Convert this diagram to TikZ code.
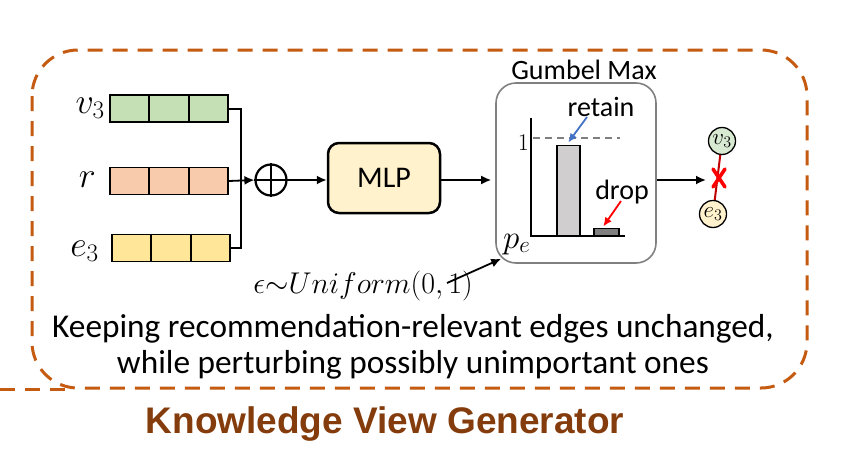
\RequirePackage{fix-cm}
\documentclass[tikz,border=0pt]{standalone}
\usepackage{fontspec}
\setmainfont{Carlito}
\newfontfamily\titlefont{Liberation Sans}
\usetikzlibrary{arrows.meta,calc}
\definecolor{dashor}{HTML}{C55A11}
\definecolor{titlebrown}{HTML}{843C0C}
\definecolor{vgreen}{HTML}{C5E0B4}
\definecolor{rorange}{HTML}{F8CBAD}
\definecolor{eyellow}{HTML}{FFE699}
\definecolor{mlpfill}{HTML}{FFF2CC}
\definecolor{gboxgray}{HTML}{808080}
\definecolor{barlight}{HTML}{D0CECE}
\definecolor{bardark}{HTML}{7F7F7F}
\definecolor{retainblue}{HTML}{4472C4}
\definecolor{cgreen}{HTML}{D9EAD3}
\definecolor{cyellow}{HTML}{FFF2CC}
\definecolor{edgered}{HTML}{C00000}
\tikzset{
  outerbox/.style={draw=dashor, line width=3pt, dash pattern=on 15pt off 10pt, rounded corners=46pt},
  vecbox/.style={draw, line width=1.5pt, minimum width=118pt, minimum height=27pt, inner sep=0pt},
  cellline/.style={line width=1.5pt},
  mathlbl/.style={font=\fontsize{30}{36}\selectfont, inner sep=0pt},
  veclbl/.style={font=\fontsize{36}{42}\selectfont, inner sep=0pt, anchor=base east},
  wire/.style={line width=2pt},
  arr/.style={line width=1.8pt, -{Latex[length=10pt,width=9pt]}},
  opl/.style={circle, draw, line width=2.2pt, minimum size=31pt, inner sep=0pt},
  mlpbox/.style={draw, line width=2.5pt, fill=mlpfill, rounded corners=11pt, minimum width=112pt, minimum height=70pt, font=\fontsize{30}{36}\selectfont},
  gbox/.style={draw=gboxgray, line width=1.6pt, rounded corners=20pt, minimum width=160pt, minimum height=180pt, inner sep=0pt},
  sans/.style={font=\fontsize{28}{34}\selectfont, inner sep=0pt},
  desc/.style={font=\fontsize{33.3}{40}\selectfont, inner sep=0pt, anchor=base},
  bar/.style={draw, line width=1.5pt, inner sep=0pt, anchor=south west},
  smallnode/.style={circle, draw, line width=1.3pt, minimum size=27pt, inner sep=0pt, font=\fontsize{23}{26}\selectfont},
  xline/.style={draw=red, line width=3.5pt, line cap=round},
}
\begin{document}
\begin{tikzpicture}[x=1pt,y=-1pt]
\useasboundingbox (0,0) rectangle (843,450);
% outer dashed box
\draw[outerbox] (32,50) rectangle (807,388);
\coordinate (strayA) at (0,389);
\coordinate (strayB) at (72,389);
\draw[draw=dashor, line width=3pt, dash pattern=on 15pt off 10pt] (strayA) -- (strayB);
% vectors
\node[vecbox, fill=vgreen] (v3vec) at (169,108.5) {};
\node[vecbox, fill=rorange] (rvec) at (169,181) {};
\node[vecbox, fill=eyellow] (e3vec) at (171,248) {};
\foreach \n in {v3vec,rvec,e3vec}{
  \draw[cellline] ($(\n.north west)!1/3!(\n.north east)$) -- ($(\n.south west)!1/3!(\n.south east)$);
  \draw[cellline] ($(\n.north west)!2/3!(\n.north east)$) -- ($(\n.south west)!2/3!(\n.south east)$);
}
\node[veclbl] (v3lbl) at (105,113) {$v_3$};
\node[veclbl] (rlbl) at (96,187) {$r$};
\node[veclbl] (e3lbl) at (99,256) {$e_3$};
% oplus
\node[opl] (oplus) at (271,180) {};
\draw[line width=2.2pt] (oplus.north) -- (oplus.south);
\draw[line width=2.2pt] (oplus.west) -- (oplus.east);
\coordinate (bus) at (241,181);
\draw[wire] (v3vec.east) -| (bus) |- (e3vec.east);
\draw[arr] (rvec.east) -- (oplus.west);
% MLP
\node[mlpbox] (mlp) at (384,178) {MLP};
\draw[arr] (oplus.east) -- (mlp.west |- oplus.east);
% Gumbel box
\node[gbox] (gumbel) at (576,173) {};
\node[sans, anchor=base] (gtitle) at (584,79) {Gumbel Max};
\draw[arr, shorten >=4pt] (mlp.east |- 0,180) -- (gumbel.west |- 0,180);
% axes
\coordinate (ytop) at (531,118);
\coordinate (origin) at (531,236);
\coordinate (xend) at (625,236);
\draw[line width=2pt] (ytop) -- (origin) -- (xend);
\coordinate (refL) at (533,138);
\coordinate (refR) at (620,138);
\draw[draw=bardark, line width=1.6pt, dash pattern=on 7pt off 5pt] (refL) -- (refR);
\node[font=\fontsize{24}{28}\selectfont, inner sep=0pt, anchor=base east] (one) at (529,150) {$1$};
\node[bar, fill=barlight, minimum width=23pt, minimum height=90pt] (tallbar) at (556,236) {};
\node[bar, fill=bardark, minimum width=25pt, minimum height=7pt] (smallbar) at (593,236) {};
\node[sans, anchor=base] (retain) at (601,116) {retain};
\node[sans, anchor=base] (drop) at (622,199) {drop};
\coordinate (rtail) at (587,117);
\draw[draw=retainblue, line width=1.8pt, -{Latex[length=9pt,width=8pt]}] (rtail) -- ($(tallbar.north)+(0,-2)$);
\coordinate (dtail) at (621,201);
\draw[draw=red, line width=1.8pt, -{Latex[length=9pt,width=8pt]}] (dtail) -- ($(smallbar.north)+(-3,-1)$);
\node[font=\fontsize{33}{38}\selectfont, inner sep=0pt, anchor=base west] (pe) at (503,248) {$p_e$};
% output
\coordinate (outtip) at (706,180);
\draw[arr] (gumbel.east |- 0,180) -- (outtip);
\node[smallnode, fill=cgreen] (v3c) at (722,141) {$v_3$};
\node[smallnode, fill=cyellow] (e3c) at (713,214) {$e_3$};
\draw[draw=edgered, line width=2pt] (v3c) -- (e3c);
\coordinate (xm) at (719,178);
\draw[xline] ($(xm)+(-6,-9)$) -- ($(xm)+(6,9)$);
\draw[xline] ($(xm)+(6,-9)$) -- ($(xm)+(-6,9)$);
% epsilon
\node[mathlbl, anchor=base] (eps) at (363,293) {$\epsilon{\sim}Uniform(0,1)$};
\coordinate (epstail) at (447,283);
\draw[arr] (epstail) -- ($(gumbel.south west)+(6,-5)$);
% description
\node[desc] (desc1) at (413,337) {Keeping recommendation-relevant edges unchanged,};
\node[desc] (desc2) at (413,373) {while perturbing possibly unimportant ones};
% title
\node[inner sep=0pt, anchor=base, text=titlebrown, font=\titlefont\bfseries\fontsize{37}{44}\selectfont] (title) at (385,433) {Knowledge View Generator};
\end{tikzpicture}
\end{document}
